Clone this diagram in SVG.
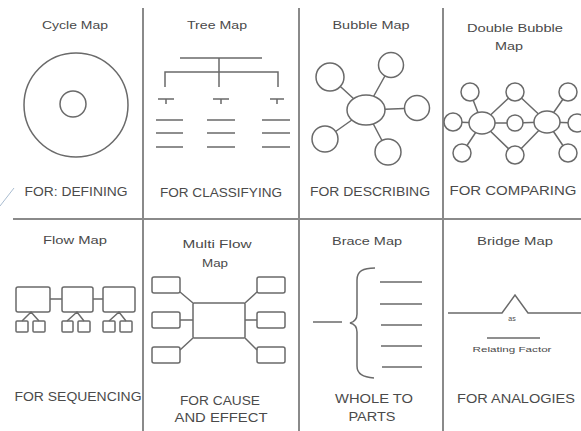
<svg xmlns="http://www.w3.org/2000/svg" width="581" height="431" viewBox="0 0 581 431">
<style>
text{font-family:"Liberation Sans",Arial,sans-serif;fill:#4a4a4a;text-anchor:middle}
.t{font-size:11px}
.l{font-size:12.5px}
.s{font-size:7px}
.g{stroke:#8a8a8a;stroke-width:2;fill:none}
.k{stroke:#6a6a6a;stroke-width:1.5;fill:none}
.w{stroke:#6a6a6a;stroke-width:1.5;fill:#fff}
</style>
<rect width="581" height="431" fill="#fff"/>
<g id="grid">
<line class="g" x1="143" y1="8" x2="143" y2="431"/>
<line class="g" x1="299" y1="8" x2="299" y2="431"/>
<line class="g" x1="443" y1="8" x2="443" y2="431"/>
<line class="g" x1="13" y1="219" x2="581" y2="219"/>
<line x1="0" y1="206" x2="14" y2="188" stroke="#a9bcd0" stroke-width="1"/>
</g>
<g id="cycle-map">
<text class="t" x="75" y="29" textLength="66" lengthAdjust="spacingAndGlyphs">Cycle Map</text>
<circle class="k" cx="76" cy="105" r="52"/>
<circle class="k" cx="73" cy="104" r="13"/>
<text class="l" x="76" y="196" textLength="103" lengthAdjust="spacingAndGlyphs">FOR: DEFINING</text>
</g>
<g id="tree-map">
<text class="t" x="217" y="29" textLength="60" lengthAdjust="spacingAndGlyphs">Tree Map</text>
<path class="k" d="M180,58H262M219,58V87M165,87V72H278V87"/>
<path class="k" d="M158,99H174M166,99V104M213,99H229M221,99V104M270,99H284M277,99V104"/>
<path class="k" d="M156,120H183M156,133H183M156,147H183M207,120H235M207,133H235M207,147H235M262,120H290M262,133H290M262,147H290"/>
<text class="l" x="221" y="197" textLength="122" lengthAdjust="spacingAndGlyphs">FOR CLASSIFYING</text>
</g>
<g id="bubble-map">
<text class="t" x="371" y="29" textLength="77" lengthAdjust="spacingAndGlyphs">Bubble Map</text>
<path class="k" d="M366,110L330,77M366,110L391,65M366,110L417,108M366,110L325,139M366,110L388,152"/>
<ellipse class="w" cx="366" cy="110" rx="19" ry="15"/>
<circle class="w" cx="330" cy="77" r="14"/>
<circle class="w" cx="391" cy="65" r="12.5"/>
<circle class="w" cx="417" cy="108" r="12.5"/>
<circle class="w" cx="325" cy="139" r="13"/>
<circle class="w" cx="388" cy="152" r="13"/>
<text class="l" x="370" y="196" textLength="120" lengthAdjust="spacingAndGlyphs">FOR DESCRIBING</text>
</g>
<g id="double-bubble-map">
<text class="t" x="515" y="32" textLength="96" lengthAdjust="spacingAndGlyphs">Double Bubble</text>
<text class="t" x="509" y="50" textLength="28" lengthAdjust="spacingAndGlyphs">Map</text>
<path class="k" d="M482,123L470,92M482,123L453,122M482,123L462,153M482,123L515,92M482,123L515,123M482,123L515,155M547,122L515,92M547,122L515,123M547,122L515,155M547,122L568,92M547,122L577,123M547,122L568,153"/>
<ellipse class="w" cx="482" cy="123" rx="13" ry="11"/>
<ellipse class="w" cx="547" cy="122" rx="13" ry="11"/>
<circle class="w" cx="515" cy="123" r="8"/>
<circle class="w" cx="515" cy="92" r="9"/>
<circle class="w" cx="515" cy="155" r="9"/>
<circle class="w" cx="470" cy="92" r="9"/>
<circle class="w" cx="453" cy="122" r="9"/>
<circle class="w" cx="462" cy="153" r="9"/>
<circle class="w" cx="568" cy="92" r="9"/>
<circle class="w" cx="577" cy="123" r="9"/>
<circle class="w" cx="568" cy="153" r="9"/>
<text class="l" x="513" y="195" textLength="127" lengthAdjust="spacingAndGlyphs">FOR COMPARING</text>
</g>
<g id="flow-map">
<text class="t" x="75" y="244" textLength="64" lengthAdjust="spacingAndGlyphs">Flow Map</text>
<path class="k" d="M50,299H62M93,299H103"/>
<rect class="k" x="16" y="287" width="34" height="25" rx="2"/>
<rect class="k" x="62" y="287" width="31" height="25" rx="2"/>
<rect class="k" x="103" y="287" width="32" height="25" rx="2"/>
<path class="k" d="M22,321L31,312L39,321M67,321L77,312L84,321M109,321L119,312L126,321"/>
<rect class="k" x="16" y="321" width="12" height="11" rx="1"/>
<rect class="k" x="33" y="321" width="12" height="11" rx="1"/>
<rect class="k" x="62" y="321" width="11" height="11" rx="1"/>
<rect class="k" x="78" y="321" width="12" height="11" rx="1"/>
<rect class="k" x="103" y="321" width="12" height="11" rx="1"/>
<rect class="k" x="120" y="321" width="12" height="11" rx="1"/>
<text class="l" x="78" y="401" textLength="127" lengthAdjust="spacingAndGlyphs">FOR SEQUENCING</text>
</g>
<g id="multi-flow-map">
<text class="t" x="217" y="248" textLength="69" lengthAdjust="spacingAndGlyphs">Multi Flow</text>
<text class="t" x="215" y="267" textLength="26" lengthAdjust="spacingAndGlyphs">Map</text>
<path class="k" d="M180,292L193,303M180,320H193M180,350L193,338M245,303L257,292M245,320H257M245,338L257,350"/>
<rect class="k" x="193" y="303" width="52" height="35" rx="1"/>
<rect class="k" x="152" y="277" width="28" height="16" rx="2"/>
<rect class="k" x="152" y="312" width="28" height="16" rx="2"/>
<rect class="k" x="152" y="347" width="28" height="16" rx="2"/>
<rect class="k" x="257" y="277" width="28" height="16" rx="2"/>
<rect class="k" x="257" y="312" width="28" height="16" rx="2"/>
<rect class="k" x="257" y="347" width="28" height="16" rx="2"/>
<text class="l" x="220" y="405" textLength="80" lengthAdjust="spacingAndGlyphs">FOR CAUSE</text>
<text class="l" x="221" y="422" textLength="93" lengthAdjust="spacingAndGlyphs">AND EFFECT</text>
</g>
<g id="brace-map">
<text class="t" x="367" y="245" textLength="70" lengthAdjust="spacingAndGlyphs">Brace Map</text>
<path class="k" d="M313,322H342"/>
<path class="k" d="M375,268C363,268 357,271 357,280V314C357,319 354,322 350,323C354,324 357,327 357,332V366C357,374 363,377 374,378"/>
<path class="k" d="M380,282H422M380,304H422M381,325H422M381,346H422M382,367H422"/>
<text class="l" x="374" y="403" textLength="78" lengthAdjust="spacingAndGlyphs">WHOLE TO</text>
<text class="l" x="372" y="421" textLength="47" lengthAdjust="spacingAndGlyphs">PARTS</text>
</g>
<g id="bridge-map">
<text class="t" x="515" y="245" textLength="76" lengthAdjust="spacingAndGlyphs">Bridge Map</text>
<path class="k" d="M448,313H502L515,295L528,313H581"/>
<text class="s" x="512" y="321">as</text>
<path class="k" stroke-width="1" d="M487,338H540"/>
<text class="s" x="512" y="352" textLength="79" lengthAdjust="spacingAndGlyphs">Relating Factor</text>
<text class="l" x="516" y="403" textLength="118" lengthAdjust="spacingAndGlyphs">FOR ANALOGIES</text>
</g>
</svg>
